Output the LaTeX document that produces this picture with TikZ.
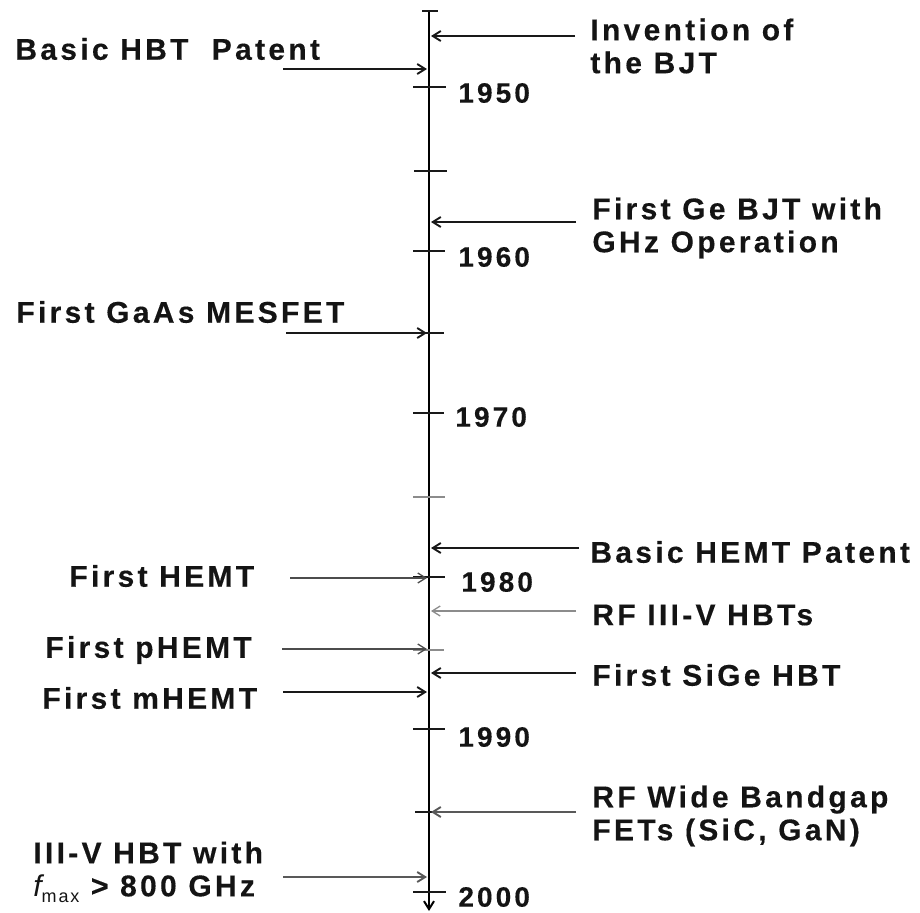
\documentclass[tikz,border=0pt]{standalone}
\usepackage{fontspec}
\usetikzlibrary{arrows.meta}
\newfontfamily\labfont[LetterSpace=11,FakeBold=0.3]{Liberation Sans Bold}
\newfontfamily\subfont[LetterSpace=10]{Liberation Sans}
\tikzset{
  lab/.style={font=\labfont\fontsize{15}{16.5}\selectfont, inner sep=0pt, anchor=west, align=left, text=black!92},
  yr/.style={font=\labfont\fontsize{14}{16}\selectfont, inner sep=0pt, anchor=west, text=black!92},
  arr/.style={-{Straight Barb[length=4pt,width=5pt]}, line width=0.95pt, draw=black!90},
  thinarr/.style={-{Straight Barb[length=4pt,width=5pt]}, line width=0.65pt, draw=black!70},
  tick/.style={line width=0.8pt, draw=black!90},
  gtick/.style={line width=0.6pt, draw=black!45},
}
\begin{document}
\begin{tikzpicture}[x=0.5pt,y=-0.5pt]
\useasboundingbox (0,0) rectangle (920,912);
% axis
\coordinate (top) at (429,11);
\coordinate (bot) at (429,911);
\draw[line width=1pt, -{Straight Barb[length=4pt,width=5pt]}] (top) -- (bot);
% ticks
\draw[tick] (422,11) -- (438,11);
\draw[tick] (413,87) -- (446,87);
\draw[tick] (414,171) -- (447,171);
\draw[tick] (413,251) -- (445,251);
\draw[tick] (413,333) -- (444,333);
\draw[tick, line width=1.4pt] (413,413) -- (444,413);
\draw[gtick] (413,497) -- (445,497);
\draw[tick] (413,577) -- (445,577);
\draw[gtick] (413,650) -- (444,650);
\draw[tick] (413,729) -- (445,729);
\draw[tick] (415,812) -- (445,812);
\draw[tick] (413,892) -- (446,892);
% year labels
\node[yr] (y1950) at (458,93) {1950};
\node[yr] (y1960) at (458,257) {1960};
\node[yr] (y1970) at (455,417) {1970};
\node[yr] (y1980) at (461,582) {1980};
\node[yr] (y1990) at (458,737) {1990};
\node[yr] (y2000) at (458,897) {2000};
% right-hand events
\node[lab] (bjt) at (590,46) {Invention of\\the BJT};
\node[lab] (ge) at (592,228) {First Ge BJT with\\GHz Operation};
\node[lab] (hemtp) at (590,552) {Basic HEMT Patent};
\node[lab] (rf35) at (592,615) {RF III-V HBTs};
\node[lab] (sige) at (592,675) {First SiGe HBT};
\node[lab] (wbg) at (592,816) {RF Wide Bandgap\\FETs (SiC, GaN)};
% left-hand events
\node[lab] (hbtp) at (15,49) {Basic HBT\ \ Patent};
\node[lab] (mesfet) at (16,312) {First GaAs MESFET};
\node[lab] (hemt) at (69,576) {First HEMT};
\node[lab] (phemt) at (45,650) {First pHEMT};
\node[lab] (mhemt) at (42,698) {First mHEMT};
\node[lab] (hbt800) at (33,872) {III-V HBT with\\{\subfont\itshape f}\raisebox{-3pt}{\subfont\fontsize{9}{9}\selectfont max} > 800 GHz};
% arrow start / end coordinates
\coordinate (sBjt) at (575,36);   \coordinate (eBjt) at (431,36);
\coordinate (sGe) at (576,222);   \coordinate (eGe) at (431,222);
\coordinate (sHemtp) at (579,548); \coordinate (eHemtp) at (431,548);
\coordinate (sRf35) at (576,611); \coordinate (eRf35) at (431,611);
\coordinate (sSige) at (576,673); \coordinate (eSige) at (431,673);
\coordinate (sWbg) at (576,812);  \coordinate (eWbg) at (431,812);
\coordinate (sHbtp) at (283,69);  \coordinate (eHbtp) at (427,69);
\coordinate (sMes) at (286,333);  \coordinate (eMes) at (427,333);
\coordinate (sHemt) at (290,578); \coordinate (eHemt) at (427,578);
\coordinate (sPh) at (282,649);   \coordinate (ePh) at (427,649);
\coordinate (sMh) at (283,692);   \coordinate (eMh) at (427,692);
\coordinate (s800) at (283,877);  \coordinate (e800) at (427,877);
% arrows
\draw[arr] (sBjt) -- (eBjt);
\draw[arr] (sGe) -- (eGe);
\draw[arr] (sHemtp) -- (eHemtp);
\draw[thinarr, draw=black!45] (sRf35) -- (eRf35);
\draw[arr] (sSige) -- (eSige);
\draw[arr, draw=black!65] (sWbg) -- (eWbg);
\draw[arr] (sHbtp) -- (eHbtp);
\draw[arr] (sMes) -- (eMes);
\draw[thinarr] (sHemt) -- (eHemt);
\draw[thinarr] (sPh) -- (ePh);
\draw[arr] (sMh) -- (eMh);
\draw[arr, draw=black!65] (s800) -- (e800);
\end{tikzpicture}
\end{document}
